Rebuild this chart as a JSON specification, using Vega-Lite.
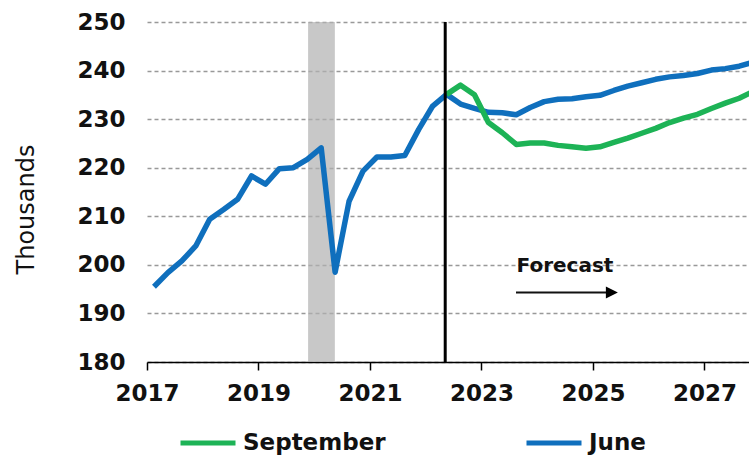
{
  "$schema": "https://vega.github.io/schema/vega-lite/v6.json",
  "width": 602,
  "height": 340,
  "autosize": {"type": "none"},
  "padding": {"left": 147, "top": 22, "right": 0, "bottom": 93},
  "background": "white",
  "config": {
    "view": {"stroke": null},
    "font": "DejaVu Sans"
  },
  "datasets": {
    "series": [
      {"series": "June", "year": 2017.125, "value": 195.5},
      {"series": "June", "year": 2017.375, "value": 198.4},
      {"series": "June", "year": 2017.625, "value": 200.8},
      {"series": "June", "year": 2017.875, "value": 203.9},
      {"series": "June", "year": 2018.125, "value": 209.4},
      {"series": "June", "year": 2018.375, "value": 211.4},
      {"series": "June", "year": 2018.625, "value": 213.5},
      {"series": "June", "year": 2018.875, "value": 218.3},
      {"series": "June", "year": 2019.125, "value": 216.6},
      {"series": "June", "year": 2019.375, "value": 219.8},
      {"series": "June", "year": 2019.625, "value": 220.0},
      {"series": "June", "year": 2019.875, "value": 221.7},
      {"series": "June", "year": 2020.125, "value": 224.1},
      {"series": "June", "year": 2020.375, "value": 198.5},
      {"series": "June", "year": 2020.625, "value": 213.1},
      {"series": "June", "year": 2020.875, "value": 219.3},
      {"series": "June", "year": 2021.125, "value": 222.2},
      {"series": "June", "year": 2021.375, "value": 222.2},
      {"series": "June", "year": 2021.625, "value": 222.5},
      {"series": "June", "year": 2021.875, "value": 227.9},
      {"series": "June", "year": 2022.125, "value": 232.7},
      {"series": "June", "year": 2022.375, "value": 235.1},
      {"series": "June", "year": 2022.625, "value": 233.1},
      {"series": "June", "year": 2022.875, "value": 232.2},
      {"series": "June", "year": 2023.125, "value": 231.4},
      {"series": "June", "year": 2023.375, "value": 231.3},
      {"series": "June", "year": 2023.625, "value": 230.9},
      {"series": "June", "year": 2023.875, "value": 232.4},
      {"series": "June", "year": 2024.125, "value": 233.6},
      {"series": "June", "year": 2024.375, "value": 234.1},
      {"series": "June", "year": 2024.625, "value": 234.2},
      {"series": "June", "year": 2024.875, "value": 234.6},
      {"series": "June", "year": 2025.125, "value": 234.9},
      {"series": "June", "year": 2025.375, "value": 235.9},
      {"series": "June", "year": 2025.625, "value": 236.8},
      {"series": "June", "year": 2025.875, "value": 237.5},
      {"series": "June", "year": 2026.125, "value": 238.2},
      {"series": "June", "year": 2026.375, "value": 238.7},
      {"series": "June", "year": 2026.625, "value": 239.0},
      {"series": "June", "year": 2026.875, "value": 239.4},
      {"series": "June", "year": 2027.125, "value": 240.1},
      {"series": "June", "year": 2027.375, "value": 240.4},
      {"series": "June", "year": 2027.625, "value": 240.9},
      {"series": "June", "year": 2027.875, "value": 241.7},
      {"series": "September", "year": 2022.375, "value": 235.1},
      {"series": "September", "year": 2022.625, "value": 237.0},
      {"series": "September", "year": 2022.875, "value": 235.0},
      {"series": "September", "year": 2023.125, "value": 229.3},
      {"series": "September", "year": 2023.375, "value": 227.2},
      {"series": "September", "year": 2023.625, "value": 224.8},
      {"series": "September", "year": 2023.875, "value": 225.1},
      {"series": "September", "year": 2024.125, "value": 225.1},
      {"series": "September", "year": 2024.375, "value": 224.6},
      {"series": "September", "year": 2024.625, "value": 224.3},
      {"series": "September", "year": 2024.875, "value": 224.0},
      {"series": "September", "year": 2025.125, "value": 224.3},
      {"series": "September", "year": 2025.375, "value": 225.2},
      {"series": "September", "year": 2025.625, "value": 226.1},
      {"series": "September", "year": 2025.875, "value": 227.1},
      {"series": "September", "year": 2026.125, "value": 228.1},
      {"series": "September", "year": 2026.375, "value": 229.3},
      {"series": "September", "year": 2026.625, "value": 230.2},
      {"series": "September", "year": 2026.875, "value": 231.0},
      {"series": "September", "year": 2027.125, "value": 232.2},
      {"series": "September", "year": 2027.375, "value": 233.3},
      {"series": "September", "year": 2027.625, "value": 234.3},
      {"series": "September", "year": 2027.875, "value": 235.7}
    ],
    "band": [{"start": 2019.89, "end": 2020.37}],
    "vline": [{"year": 2022.35}],
    "note": [{"year": 2023.63, "value": 198.5, "label": "Forecast"}],
    "arrow": [{"start": 2023.62, "end": 2025.25, "value": 194.3, "tip": 2025.34}]
  },
  "layer": [
    {
      "data": {"name": "band"},
      "mark": {"type": "rect", "color": "#b0b0b0", "opacity": 0.7},
      "encoding": {
        "x": {"field": "start", "type": "quantitative", "scale": {"domain": [2017, 2027.8], "nice": false, "zero": false},
          "axis": {"values": [2017, 2019, 2021, 2023, 2025, 2027], "format": "d", "title": null, "grid": false,
            "domainColor": "#000", "domainWidth": 1.5, "tickColor": "#000", "tickWidth": 1.5, "tickSize": 8,
            "labelFont": "DejaVu Sans", "labelFontWeight": "bold", "labelFontSize": 23, "labelColor": "#111",
            "labelPadding": 12, "labelDx": 7, "labelFlush": false, "labelOverlap": false}},
        "x2": {"field": "end"}
      }
    },
    {
      "data": {"name": "series"},
      "mark": {"type": "line", "strokeWidth": 5.5, "clip": true, "strokeJoin": "round"},
      "encoding": {
        "x": {"field": "year", "type": "quantitative"},
        "y": {"field": "value", "type": "quantitative", "scale": {"domain": [180, 250], "nice": false, "zero": false},
          "axis": {"values": [180, 190, 200, 210, 220, 230, 240, 250], "title": "Thousands", "domain": false, "ticks": false,
            "grid": true, "gridDash": [4, 3], "gridColor": "#999", "gridWidth": 1.5,
            "labelFont": "DejaVu Sans", "labelFontWeight": "bold", "labelFontSize": 23, "labelColor": "#111", "labelPadding": 22,
            "titleFont": "DejaVu Sans", "titleFontWeight": "normal", "titleFontSize": 24, "titleColor": "#111",
            "titleAngle": -90, "titleBaseline": "alphabetic", "titleAlign": "center", "titleX": -114, "titleY": 187}},
        "color": {"field": "series", "type": "nominal",
          "scale": {"domain": ["September", "June"], "range": ["#1db356", "#0f6fbd"]},
          "legend": {"title": null, "orient": "none", "legendX": 31, "legendY": 391, "direction": "horizontal",
            "symbolType": "stroke", "symbolSize": 3025, "symbolStrokeWidth": 5, "labelOffset": 5,
            "labelFont": "DejaVu Sans", "labelFontWeight": "bold", "labelFontSize": 23, "labelColor": "#111",
            "columnPadding": 130, "padding": 0}},
        "order": {"field": "series", "sort": "ascending"}
      }
    },
    {
      "data": {"name": "vline"},
      "mark": {"type": "rule", "color": "#000", "strokeWidth": 3},
      "encoding": {"x": {"field": "year", "type": "quantitative"}}
    },
    {
      "data": {"name": "note"},
      "mark": {"type": "text", "align": "left", "baseline": "alphabetic", "font": "DejaVu Sans", "fontWeight": "bold", "fontSize": 20, "color": "#111"},
      "encoding": {
        "x": {"field": "year", "type": "quantitative"},
        "y": {"field": "value", "type": "quantitative"},
        "text": {"field": "label"}
      }
    },
    {
      "data": {"name": "arrow"},
      "mark": {"type": "rule", "color": "#111", "strokeWidth": 2},
      "encoding": {
        "x": {"field": "start", "type": "quantitative"},
        "x2": {"field": "end"},
        "y": {"field": "value", "type": "quantitative"}
      }
    },
    {
      "data": {"name": "arrow"},
      "mark": {"type": "point", "shape": "M-1,-1L1,0L-1,1Z", "filled": true, "color": "#000", "size": 144, "opacity": 1},
      "encoding": {
        "x": {"field": "tip", "type": "quantitative"},
        "y": {"field": "value", "type": "quantitative"}
      }
    }
  ]
}
